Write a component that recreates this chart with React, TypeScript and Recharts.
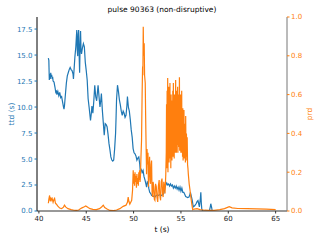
import { Line, LineChart, XAxis, YAxis } from "recharts";

const ttdT = [
  41.0, 41.05, 41.1, 41.15, 41.2, 41.25, 41.3, 41.35, 41.4, 41.45, 41.5, 41.6, 41.7, 41.8, 41.85, 41.9,
  42.0, 42.1, 42.2, 42.3, 42.4, 42.5, 42.6, 42.65, 42.7, 42.8, 42.9, 43.0, 43.1, 43.2, 43.3, 43.4, 43.5,
  43.6, 43.65, 43.7, 43.8, 43.9, 44.0, 44.05, 44.1, 44.15, 44.2, 44.25, 44.3, 44.35, 44.4, 44.45, 44.5,
  44.6, 44.7, 44.8, 44.9, 45.0, 45.1, 45.2, 45.3, 45.45, 45.55, 45.6, 45.7, 45.8, 45.9, 46.0, 46.1, 46.2,
  46.25, 46.35, 46.45, 46.55, 46.6, 46.7, 46.8, 46.9, 47.0, 47.1, 47.2, 47.3, 47.4, 47.5, 47.6, 47.7,
  47.8, 47.9, 48.0, 48.1, 48.15, 48.2, 48.3, 48.4, 48.5, 48.6, 48.7, 48.8, 48.9, 49.0, 49.1, 49.2, 49.3,
  49.35, 49.45, 49.55, 49.65, 49.75, 49.85, 49.95, 50.05, 50.15, 50.25, 50.35, 50.45, 50.55, 50.65, 50.7,
  50.8, 50.9, 51.0, 51.1, 51.2, 51.3, 51.37, 51.45, 51.55, 51.6, 51.7, 51.8, 51.9, 52.0, 52.1, 52.25,
  52.4, 52.6, 52.8, 52.96, 53.1, 53.2, 53.3, 53.4, 53.5, 53.6, 53.7, 53.8, 53.9, 54.0, 54.1, 54.2, 54.3,
  54.4, 54.5, 54.6, 54.7, 54.8, 54.9, 55.0, 55.1, 55.2, 55.3, 55.4, 55.5, 55.6, 55.7, 55.85, 55.95, 56.0,
  56.1, 56.2, 56.3, 56.45, 56.6, 56.7, 56.8, 56.9, 56.95, 57.05, 57.1, 57.15, 57.2, 57.3, 58.0, 58.1,
  58.15, 58.25, 58.3, 58.5,
];
const ttdV = [
  14.7, 14.5, 12.6, 13.2, 12.7, 13.3, 12.9, 13.1, 12.7, 12.9, 12.5, 12.4, 11.9, 11.3, 11.6, 11.2,
  11.5, 11.1, 11.4, 10.9, 11.0, 10.5, 10.0, 9.8, 10.1, 11.2, 12.3, 13.0, 13.3, 13.6, 13.8, 13.6, 13.5,
  13.2, 12.7, 13.4, 14.8, 15.8, 17.4, 15.5, 14.9, 17.0, 17.4, 15.0, 13.3, 15.8, 17.3, 15.5, 15.1,
  15.7, 16.1, 15.8, 14.3, 13.5, 12.6, 10.8, 10.0, 8.7, 9.5, 10.1, 9.4, 10.6, 12.1, 11.0, 10.6, 11.6,
  12.1, 11.0, 10.0, 10.8, 11.3, 9.7, 8.5, 7.3, 8.4, 8.3, 8.1, 7.4, 6.5, 5.9, 5.2, 4.9,
  4.8, 4.9, 6.0, 7.5, 9.0, 10.7, 12.1, 11.5, 10.7, 10.2, 9.6, 9.2, 9.6, 9.4, 9.0, 9.2, 10.2,
  11.0, 10.0, 9.6, 8.8, 7.8, 7.1, 6.0, 5.6, 5.5, 5.3, 4.9, 5.1, 5.2, 4.5, 3.9,
  4.0, 3.7, 3.9, 3.3, 3.0, 2.6, 2.3, 2.8, 2.7, 2.2, 1.8, 1.7, 1.5, 1.5, 1.4, 1.35,
  1.5, 1.5, 1.6, 1.5, 1.6, 1.7, 2.2, 2.5, 2.7, 2.5, 2.6, 2.4, 2.6, 2.4, 2.5, 2.2, 2.4,
  2.2, 2.4, 2.1, 2.3, 2.0, 2.3, 1.9, 2.2, 1.8, 1.8, 1.6, 1.4, 1.35, 1.3, 1.35, 1.6, 1.8,
  1.4, 1.0, 0.4, 0.5, 0.7, 0.9, 1.0, 0.6, 0.4, 1.2, 1.8, 0.8, 0.2, 0.0, 0.0, 0.4,
  0.7, 0.3, 0.0, 0.0,
];

const prdT = [
  41.0, 41.05, 41.13, 41.2, 41.25, 41.3, 41.4, 41.5, 41.6, 41.66, 41.75, 41.85, 42.0, 42.2, 42.4, 42.6,
  42.7, 42.85, 43.07, 43.4, 43.7, 43.95, 44.2, 44.5, 44.8, 44.95, 45.2, 45.4, 45.7, 46.07, 46.4, 46.65,
  46.8, 46.95, 47.2, 47.5, 47.9, 48.2, 48.55, 48.9, 49.2, 49.35, 49.43, 49.5, 49.6, 49.7, 49.8, 49.89,
  49.96, 50.0, 50.05, 50.1, 50.15, 50.2, 50.25, 50.3, 50.35, 50.4, 50.45, 50.5, 50.55, 50.6, 50.63, 50.68,
  50.72, 50.78, 50.84, 50.9, 50.95, 50.98, 51.02, 51.06, 51.12, 51.16, 51.23, 51.27, 51.3,
  51.37, 51.42, 51.47, 51.52, 51.57, 51.63, 51.69, 51.74, 51.79, 51.85, 51.9, 51.95, 52.0, 52.06, 52.13,
  52.19, 52.25, 52.32, 52.4, 52.47, 52.55, 52.62, 52.7, 52.77, 52.85, 52.92, 53.0, 53.06, 53.12, 53.19,
  53.25, 53.32, 53.4,
  53.45, 53.48, 53.51, 53.54, 53.57, 53.6, 53.63, 53.66, 53.69, 53.72, 53.75, 53.78, 53.81, 53.84, 53.87,
  53.9, 53.93, 53.96, 53.99, 54.02, 54.05, 54.08, 54.11, 54.14, 54.17, 54.2, 54.23, 54.26, 54.29, 54.32,
  54.35, 54.38, 54.41, 54.44, 54.47, 54.5, 54.53, 54.56, 54.59, 54.62, 54.65, 54.68, 54.71, 54.74, 54.77,
  54.8, 54.84, 54.87, 54.9, 54.93, 54.96, 54.99, 55.02, 55.05, 55.08, 55.11, 55.14, 55.17, 55.2, 55.23,
  55.26, 55.29, 55.32, 55.35, 55.38, 55.41, 55.44, 55.47, 55.5, 55.54, 55.58, 55.62, 55.66, 55.7, 55.74,
  55.78, 55.87, 55.96, 56.05, 56.14, 56.24, 56.4, 56.7, 57.0, 57.5, 58.0, 58.5, 59.1, 59.6, 60.1, 60.4,
  61.0, 62.0, 63.0, 64.0, 65.0,
];
const prdV = [
  0.04, 0.06, 0.08, 0.05, 0.07, 0.055, 0.065, 0.045, 0.06, 0.065, 0.04, 0.035, 0.025, 0.015, 0.012, 0.02,
  0.03, 0.02, 0.012, 0.007, 0.004, 0.003, 0.005, 0.015, 0.022, 0.026, 0.018, 0.012, 0.008, 0.007, 0.012, 0.022,
  0.03, 0.018, 0.01, 0.003, 0.002, 0.005, 0.012, 0.024, 0.03, 0.045, 0.072, 0.05, 0.035, 0.045, 0.055, 0.107,
  0.21, 0.14, 0.19, 0.13, 0.2, 0.15, 0.18, 0.12, 0.19, 0.14, 0.17, 0.13, 0.2, 0.16, 0.21, 0.15,
  0.175, 0.28, 0.365, 0.6, 0.745, 0.7, 0.95, 0.8, 0.865, 0.7, 0.66, 0.5, 0.4,
  0.19, 0.32, 0.24, 0.3, 0.125, 0.22, 0.28, 0.16, 0.14, 0.24, 0.26, 0.1, 0.072, 0.15, 0.125,
  0.06, 0.055, 0.14, 0.125, 0.07, 0.047, 0.13, 0.16, 0.08, 0.055, 0.15, 0.167, 0.09, 0.072, 0.15,
  0.13, 0.09, 0.19,
  0.3, 0.55, 0.22, 0.62, 0.28, 0.685, 0.2, 0.5, 0.3, 0.64, 0.25, 0.58, 0.33, 0.66, 0.27,
  0.52, 0.22, 0.6, 0.3, 0.57, 0.26, 0.5, 0.34, 0.62, 0.28, 0.66, 0.32, 0.55, 0.27, 0.6,
  0.35, 0.52, 0.3, 0.675, 0.36, 0.58, 0.3, 0.62, 0.34, 0.5, 0.64, 0.3, 0.56, 0.35, 0.6,
  0.33, 0.69, 0.31, 0.58, 0.36, 0.6, 0.3, 0.55, 0.33, 0.62, 0.3, 0.5, 0.28, 0.53, 0.26,
  0.48, 0.3, 0.52, 0.27, 0.45, 0.3, 0.42, 0.25, 0.49, 0.28, 0.4, 0.26, 0.38, 0.24, 0.22,
  0.19, 0.14, 0.107, 0.07, 0.038, 0.007, 0.01, 0.012, 0.007, 0.004, 0.003, 0.003, 0.007, 0.012, 0.022, 0.016,
  0.013, 0.012, 0.011, 0.01, 0.007,
];

const xTicks = [40, 45, 50, 55, 60, 65];
const ttdTicks = [0, 2.5, 5, 7.5, 10, 12.5, 15, 17.5];
const prdTicks = [0, 0.2, 0.4, 0.6, 0.8, 1.0];

const ttdData = ttdT.map((t, i) => ({ t, v: ttdV[i] }));
const prdData = prdT.map((t, i) => ({ t, v: prdV[i] }));

const BLUE = "#1f77b4";
const ORANGE = "#ff7f0e";
const FONT = "'DejaVu Sans', sans-serif";

export default function App() {
  return (
    <div style={{ position: "absolute", left: 0, top: 0, width: 320, height: 240, fontFamily: FONT, background: "#fff" }}>
      <div style={{ position: "absolute", left: 37, width: 250, top: 5, textAlign: "center", fontSize: 7.5, color: "#000" }}>
        pulse 90363 (non-disruptive)
      </div>
      <div style={{ position: "absolute", left: 11, top: 114, transform: "translate(-50%, -50%) rotate(-90deg)", fontSize: 7.5, color: BLUE, whiteSpace: "nowrap" }}>
        ttd (s)
      </div>
      <div style={{ position: "absolute", left: 309, top: 114, transform: "translate(-50%, -50%) rotate(-90deg)", fontSize: 7.5, color: ORANGE, whiteSpace: "nowrap" }}>
        prd
      </div>
      <div style={{ position: "absolute", left: 162, top: 229, transform: "translate(-50%, -50%)", fontSize: 7.5, color: "#000", whiteSpace: "nowrap" }}>
        t (s)
      </div>
      <LineChart width={320} height={240} margin={{ top: 17, right: 0, bottom: 0, left: 0 }}>
        <XAxis
          xAxisId="b"
          dataKey="t"
          type="number"
          domain={[39.8, 66.2]}
          allowDataOverflow
          ticks={xTicks}
          height={29}
          tickSize={2.5}
          tickMargin={2.5}
          stroke="#333"
          tick={{ fill: "#222", fontSize: 7, fontFamily: FONT }}
        />
        <XAxis
          xAxisId="top"
          orientation="top"
          dataKey="t"
          type="number"
          domain={[39.8, 66.2]}
          height={0}
          tick={false}
          tickLine={false}
          stroke="#777"
        />
        <YAxis
          yAxisId="l"
          type="number"
          domain={[0, 18.66]}
          allowDataOverflow
          ticks={ttdTicks}
          width={37}
          tickSize={2.5}
          tickMargin={2}
          tickFormatter={(v: number) => v.toFixed(1)}
          axisLine={{ stroke: "#000" }}
          tickLine={{ stroke: BLUE }}
          tick={{ fill: BLUE, fontSize: 7, fontFamily: FONT }}
        />
        <YAxis
          yAxisId="r"
          orientation="right"
          type="number"
          domain={[0, 1]}
          allowDataOverflow
          ticks={prdTicks}
          width={33}
          tickSize={2.5}
          tickMargin={1.5}
          tickFormatter={(v: number) => v.toFixed(1)}
          axisLine={{ stroke: "#777" }}
          tickLine={{ stroke: ORANGE }}
          tick={{ fill: ORANGE, fontSize: 7, fontFamily: FONT }}
        />
        <Line
          data={ttdData}
          xAxisId="b"
          yAxisId="l"
          dataKey="v"
          type="linear"
          stroke={BLUE}
          strokeWidth={1.2}
          dot={false}
          isAnimationActive={false}
        />
        <Line
          data={prdData}
          xAxisId="b"
          yAxisId="r"
          dataKey="v"
          type="linear"
          stroke={ORANGE}
          strokeWidth={1.2}
          dot={false}
          isAnimationActive={false}
        />
      </LineChart>
    </div>
  );
}
